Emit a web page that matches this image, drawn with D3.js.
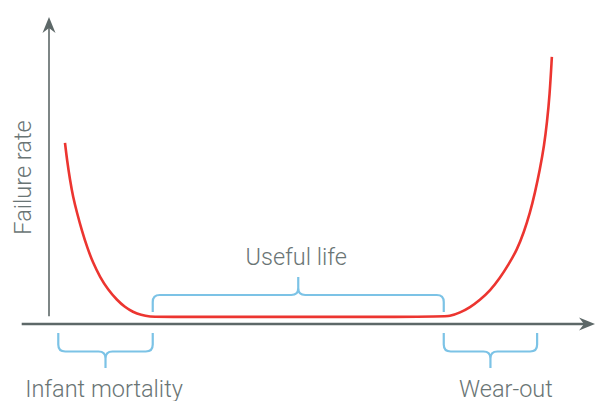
<!DOCTYPE html>
<html>
<head>
<meta charset="utf-8">
<script src="https://cdn.jsdelivr.net/npm/d3@7"></script>
<style>
  html, body { margin: 0; padding: 0; background: #fff; }
  svg { display: block; }
  text { font-family: Roboto, "Liberation Sans", Arial, sans-serif; font-weight: 300; fill: #6a7575; }
</style>
</head>
<body>
<svg id="chart" width="596" height="401"></svg>
<script>
// Bathtub curve: time (0-100) vs failure rate (0-100)
const time = [2.93, 3.3, 3.85, 4.4, 5.13, 6.04, 6.96, 8.06, 9.34, 10.8, 12.45, 13.9, 15.38, 16.85, 18.5, 20.3,
  71.6, 73.4, 75.3, 77.1, 78.9, 80.8, 82.6, 84.2, 85.7, 87.0, 88.1, 89.0, 89.9, 90.7, 91.2, 91.7, 92.1];
const failureRate = [59.0, 53.4, 46.9, 41.4, 36.2, 30.3, 25.1, 19.9, 15.3, 11.2, 7.8, 5.5, 3.9, 2.9, 2.4, 2.3,
  2.3, 2.5, 3.7, 5.4, 7.8, 10.9, 15.0, 19.5, 24.1, 30.0, 36.2, 42.7, 50.2, 58.3, 65.5, 74.6, 87.0];
const phaseLabels = ["Infant mortality", "Useful life", "Wear-out"];
const phaseStart = [1.7, 19.0, 72.3];
const phaseEnd = [19.0, 72.3, 89.4];
const phaseSide = ["below", "above", "below"];
const axisLabelY = "Failure rate";

// layout-only label nudges (px)
const labelShift = [-1.5, -2, 15.5];

const svg = d3.select("#chart");
const x = d3.scaleLinear().domain([0, 100]).range([49, 595]);
const y = d3.scaleLinear().domain([0, 100]).range([324, 17]);

const axisColor = "#5d6868";
const braceColor = "#7cc3e6";

// Axes
function arrowHead(tx, ty, dir) {
  let p;
  if (dir === "up") p = `M${tx - 6.5},${ty + 16} L${tx},${ty} L${tx + 6.5},${ty + 16} L${tx},${ty + 11} Z`;
  else p = `M${tx - 16},${ty - 6.5} L${tx},${ty} L${tx - 16},${ty + 6.5} L${tx - 11},${ty} Z`;
  svg.append("path").attr("d", p).attr("fill", axisColor);
}
svg.append("line").attr("x1", x(0)).attr("x2", x(0)).attr("y1", y(2.5)).attr("y2", y(100) + 8)
  .attr("stroke", axisColor).attr("stroke-width", 1.6);
arrowHead(x(0), y(100), "up");
svg.append("line").attr("x1", x(-5)).attr("x2", x(100) - 8).attr("y1", y(0)).attr("y2", y(0))
  .attr("stroke", axisColor).attr("stroke-width", 2.4);
arrowHead(x(100), y(0), "right");

// Curve
const line = d3.line().x((d, i) => x(time[i])).y(d => y(d)).curve(d3.curveBasis);
svg.append("path").datum(failureRate).attr("d", line)
  .attr("fill", "none").attr("stroke", "#ec3530").attr("stroke-width", 2.6);

// Braces
function bracePath(x0, x1, yEnd, yH, yTip) {
  const dir = Math.sign(yTip - yEnd);
  const r = 7, rt = 7;
  const xm = (x0 + x1) / 2;
  return `M${x0},${yEnd} L${x0},${yH - dir * r} Q${x0},${yH} ${x0 + r},${yH} L${xm - rt},${yH} Q${xm},${yH} ${xm},${yH + dir * rt} L${xm},${yTip}` +
         ` M${x1},${yEnd} L${x1},${yH - dir * r} Q${x1},${yH} ${x1 - r},${yH} L${xm + rt},${yH} Q${xm},${yH} ${xm},${yH + dir * rt}`;
}
phaseLabels.forEach((lab, i) => {
  const x0 = x(phaseStart[i]), x1 = x(phaseEnd[i]);
  const xm = (x0 + x1) / 2;
  let p, ty;
  if (phaseSide[i] === "below") {
    p = bracePath(x0, x1, 333, 351.5, 368);
    ty = 396.5;
  } else {
    p = bracePath(x0, x1, 312, 295, 277);
    ty = 264.5;
  }
  svg.append("path").attr("d", p).attr("fill", "none").attr("stroke", braceColor).attr("stroke-width", 2.2);
  svg.append("text").attr("x", xm + labelShift[i]).attr("y", ty).attr("text-anchor", "middle")
    .attr("font-size", 23.5).text(lab);
});

// Y axis label
svg.append("text").attr("transform", "translate(30.5,177.5) rotate(-90)")
  .attr("text-anchor", "middle").attr("font-size", 23.5).text(axisLabelY);
</script>
</body>
</html>
